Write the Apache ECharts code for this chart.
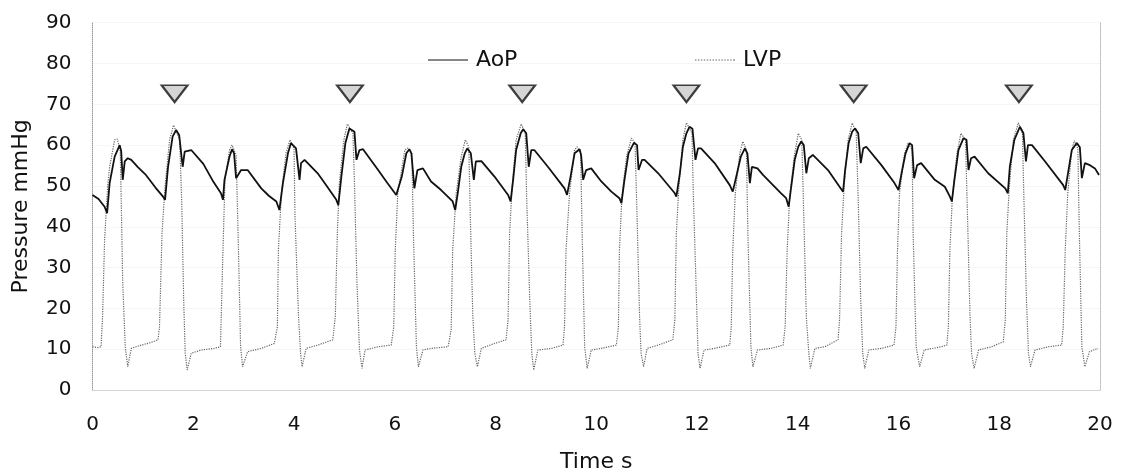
<!DOCTYPE html>
<html>
<head>
<meta charset="utf-8">
<title>AoP / LVP</title>
<script src="https://cdn.jsdelivr.net/npm/echarts@6/dist/echarts.min.js"></script>
<style>
  html, body { margin: 0; padding: 0; background: #fff; }
  #chart { width: 1122px; height: 476px; }
</style>
</head>
<body>
<div id="chart"></div>
<script>
// Aortic pressure trace, [time s, pressure mmHg]
const aopTrace = [
  [0,47.8],[0.12,46.8],[0.24,44.9],[0.29,43.3],
  [0.34,50.7],[0.44,57.2],[0.54,60.0],[0.57,58.5],[0.60,51.5],[0.64,56.0],[0.70,56.8],[0.77,56.4],[0.90,54.6],[1.06,52.7],[1.25,49.6],[1.40,47.4],[1.44,46.6],
  [1.50,54.7],[1.59,62.1],[1.66,63.7],[1.72,62.5],[1.79,54.7],[1.83,58.4],[1.96,58.8],[2.20,55.4],[2.40,51.0],[2.55,48.2],[2.59,46.6],
  [2.62,51.5],[2.72,57.2],[2.77,59.0],[2.81,58.0],[2.85,51.9],[2.95,53.9],[3.08,53.9],[3.35,49.4],[3.50,47.6],[3.65,46.2],[3.71,44.1],
  [3.78,50.7],[3.88,58.0],[3.94,60.5],[4.04,59.2],[4.11,51.5],[4.14,55.6],[4.21,56.4],[4.47,53.1],[4.65,50.0],[4.84,46.6],[4.88,45.3],
  [4.94,52.3],[5.02,60.5],[5.10,64.1],[5.20,63.3],[5.24,56.4],[5.30,58.8],[5.37,59.0],[5.67,53.9],[5.85,50.8],[6.03,47.8],[6.06,47.4],
  [6.14,52.3],[6.23,58.0],[6.29,59.0],[6.33,58.0],[6.39,49.4],[6.45,53.9],[6.56,54.3],[6.72,51.1],[6.92,49.0],[7.15,46.2],[7.20,44.1],
  [7.25,48.2],[7.32,54.7],[7.39,58.0],[7.44,59.2],[7.51,58.0],[7.57,51.5],[7.61,56.0],[7.72,56.1],[7.98,52.3],[8.25,47.8],[8.30,46.2],
  [8.35,51.5],[8.41,58.8],[8.50,62.9],[8.55,63.9],[8.61,62.9],[8.66,54.7],[8.71,58.8],[8.77,58.8],[9.04,54.7],[9.37,49.4],[9.42,47.8],
  [9.49,52.3],[9.57,58.0],[9.67,59.0],[9.70,57.5],[9.74,51.5],[9.80,53.9],[9.90,54.3],[10.10,51.1],[10.30,48.6],[10.46,47.0],[10.50,45.8],
  [10.56,51.5],[10.64,58.0],[10.75,60.6],[10.81,60.0],[10.84,53.9],[10.91,56.4],[10.96,56.4],[11.23,53.1],[11.56,48.2],[11.59,47.4],
  [11.66,53.1],[11.72,59.6],[11.79,62.9],[11.85,64.5],[11.91,64.0],[11.97,56.4],[12.02,59.2],[12.08,59.2],[12.35,55.6],[12.65,50.2],[12.71,48.6],
  [12.78,52.3],[12.87,57.2],[12.95,59.2],[13.00,58.0],[13.05,50.7],[13.09,54.7],[13.20,54.3],[13.31,52.7],[13.47,50.7],[13.67,48.2],[13.77,47.0],[13.82,44.9],
  [13.87,49.8],[13.94,56.4],[14.01,59.6],[14.07,60.9],[14.12,60.0],[14.17,53.1],[14.22,56.8],[14.30,57.6],[14.60,53.9],[14.83,49.8],[14.90,48.6],
  [14.94,53.9],[15.01,60.5],[15.08,63.3],[15.14,64.1],[15.20,62.9],[15.25,55.6],[15.30,59.2],[15.36,59.6],[15.66,55.1],[15.92,50.7],[16.00,49.0],
  [16.06,53.1],[16.14,58.0],[16.22,60.5],[16.27,60.0],[16.31,51.9],[16.37,55.1],[16.45,55.6],[16.72,51.5],[16.92,49.8],[17.02,47.4],[17.06,46.2],
  [17.11,51.5],[17.19,58.8],[17.29,61.7],[17.35,61.3],[17.39,53.9],[17.44,56.8],[17.51,57.2],[17.78,53.1],[18.12,49.4],[18.17,48.2],
  [18.21,54.7],[18.30,61.3],[18.41,64.5],[18.48,62.9],[18.53,56.0],[18.57,60.0],[18.65,60.0],[18.91,56.0],[19.27,50.2],[19.31,49.0],
  [19.37,53.5],[19.44,58.8],[19.54,60.5],[19.60,59.5],[19.64,51.9],[19.70,55.6],[19.80,55.1],[19.90,54.3],[19.98,52.7]
];

// Left ventricular pressure trace, [time s, pressure mmHg]
const lvpTrace = [
  [0,10.6],[0.10,10.4],[0.17,10.6],[0.20,18.0],[0.24,36.8],[0.30,49.8],[0.34,54.7],[0.44,61.3],[0.49,61.5],[0.55,58.8],[0.57,46.6],[0.60,26.2],[0.65,10.6],[0.70,5.7],[0.77,10.2],[0.97,11.0],[1.15,11.6],[1.30,12.3],
  [1.33,15.5],[1.38,38.4],[1.44,49.8],[1.53,61.3],[1.61,64.9],[1.73,61.3],[1.77,46.6],[1.81,22.1],[1.84,9.0],[1.88,4.9],[1.96,9.0],[2.16,9.8],[2.42,10.2],[2.54,10.6],
  [2.55,15.5],[2.59,34.3],[2.63,51.5],[2.72,58.8],[2.77,60.0],[2.85,57.6],[2.89,38.4],[2.94,10.6],[2.98,5.7],[3.08,9.4],[3.35,10.2],[3.61,11.4],
  [3.67,15.5],[3.69,34.3],[3.75,48.2],[3.84,58.0],[3.92,61.3],[4.00,59.2],[4.02,42.5],[4.09,18.0],[4.13,9.0],[4.16,5.7],[4.24,10.2],[4.47,11.0],[4.77,12.3],
  [4.82,18.0],[4.86,38.4],[4.90,50.7],[4.99,61.3],[5.06,65.2],[5.17,62.9],[5.20,50.7],[5.25,26.1],[5.30,9.8],[5.35,5.3],[5.41,9.8],[5.67,10.6],[5.93,11.0],
  [5.98,15.5],[6.01,34.3],[6.06,48.2],[6.20,58.8],[6.26,59.3],[6.34,58.0],[6.37,38.4],[6.43,10.6],[6.47,5.7],[6.56,9.8],[6.72,10.2],[7.06,10.6],
  [7.12,14.7],[7.15,34.3],[7.22,48.2],[7.32,57.2],[7.40,61.3],[7.47,59.6],[7.50,42.5],[7.55,18.0],[7.59,9.0],[7.64,5.7],[7.72,10.2],[7.98,11.4],[8.21,12.3],
  [8.25,17.2],[8.28,38.4],[8.33,49.8],[8.41,61.3],[8.51,65.2],[8.59,62.9],[8.62,46.6],[8.68,22.1],[8.72,9.0],[8.76,4.9],[8.84,9.8],[9.11,10.2],[9.34,11.0],
  [9.37,15.5],[9.40,34.3],[9.47,48.2],[9.57,58.8],[9.62,59.6],[9.69,58.0],[9.72,38.4],[9.77,10.6],[9.82,5.3],[9.90,9.8],[10.10,10.2],[10.40,11.0],
  [10.44,15.5],[10.46,34.3],[10.51,47.4],[10.60,57.2],[10.70,61.7],[10.77,60.5],[10.81,42.5],[10.86,18.0],[10.89,9.0],[10.94,5.7],[11.01,10.2],[11.23,11.0],[11.52,12.3],
  [11.56,17.2],[11.59,38.4],[11.64,49.8],[11.72,61.3],[11.79,65.5],[11.90,62.9],[11.93,46.6],[11.99,22.1],[12.02,9.0],[12.06,5.3],[12.14,9.8],[12.35,10.2],[12.65,11.0],
  [12.68,15.5],[12.71,34.3],[12.76,48.2],[12.85,58.0],[12.91,60.9],[12.98,58.8],[13.01,38.4],[13.07,10.6],[13.11,5.7],[13.20,9.8],[13.47,10.2],[13.71,11.0],
  [13.75,15.5],[13.79,34.3],[13.84,47.4],[13.93,57.2],[14.01,62.9],[14.08,61.3],[14.12,42.5],[14.17,18.0],[14.22,9.0],[14.25,5.3],[14.34,10.2],[14.54,10.6],[14.80,12.3],
  [14.83,17.2],[14.87,38.4],[14.92,49.8],[15.00,61.3],[15.08,65.4],[15.16,63.3],[15.20,46.6],[15.25,22.1],[15.29,9.0],[15.33,5.3],[15.41,9.8],[15.66,10.2],[15.91,11.0],
  [15.95,15.5],[15.98,34.3],[16.02,48.2],[16.12,58.0],[16.19,60.5],[16.27,58.8],[16.29,38.4],[16.35,10.6],[16.42,5.7],[16.51,9.8],[16.85,10.6],[16.96,11.0],
  [16.99,15.5],[17.02,34.3],[17.07,47.4],[17.16,58.0],[17.24,62.9],[17.33,61.3],[17.37,42.5],[17.42,18.0],[17.45,9.0],[17.50,5.3],[17.59,9.8],[17.85,10.6],[18.08,11.8],
  [18.12,17.2],[18.15,38.4],[18.20,49.8],[18.28,61.3],[18.38,65.5],[18.46,62.9],[18.49,46.6],[18.54,22.1],[18.58,9.0],[18.62,5.7],[18.71,9.8],[18.98,10.6],[19.24,11.0],
  [19.27,15.5],[19.31,34.3],[19.36,48.2],[19.44,58.8],[19.49,61.1],[19.56,59.2],[19.59,38.4],[19.64,10.6],[19.70,5.7],[19.79,9.4],[19.96,10.2]
];

// Beats flagged with a downward triangle: time s, and the level they sit at (mmHg)
const markerTimes = [1.63, 5.11, 8.53, 11.79, 15.11, 18.39];
const markerLevel = 72.6;

// Axis ranges and ticks
const xRange = { min: 0, max: 20, step: 2 };
const yRange = { min: 0, max: 90, step: 10 };

const FONT = 'DejaVu Sans';
const AOP_COLOR = '#111111';
const LVP_COLOR = '#666666';

// Legend keys: a solid bar for AoP, a row of short dashes for LVP
const solidKey = 'path://M0,0H40V1H0Z';
let dottedKey = 'path://';
for (let i = 0; i < 14; i++) {
  const x0 = i * 3;
  dottedKey += 'M' + x0 + ',0H' + (x0 + 1.5) + 'V1H' + x0 + 'Z';
}
dottedKey += 'M40.5,0H41V1H40.5Z';

const chart = echarts.init(document.getElementById('chart'), null, { renderer: 'canvas' });

chart.setOption({
  animation: false,
  backgroundColor: '#ffffff',
  textStyle: { fontFamily: FONT, color: '#111' },
  grid: {
    left: 92.5, right: 22, top: 22.7, bottom: 86,
    containLabel: false, outerBoundsMode: 'none'
  },
  legend: [
    {
      data: [{ name: 'AoP', icon: solidKey, itemStyle: { color: AOP_COLOR } }],
      left: 423, top: 44, itemWidth: 40, itemHeight: 2,
      textStyle: { fontFamily: FONT, fontSize: 22, color: '#111', padding: [0, 0, 0, 3] }
    },
    {
      data: [{ name: 'LVP', icon: dottedKey, itemStyle: { color: LVP_COLOR } }],
      left: 690, top: 44, itemWidth: 40, itemHeight: 2,
      textStyle: { fontFamily: FONT, fontSize: 22, color: '#111', padding: [0, 0, 0, 3] }
    }
  ],
  xAxis: {
    type: 'value', min: xRange.min, max: xRange.max, interval: xRange.step,
    name: 'Time s', nameLocation: 'middle', nameGap: 61,
    nameTextStyle: { fontFamily: FONT, fontSize: 22, color: '#111' },
    axisLine: { show: true, lineStyle: { color: '#d0d0d0', type: 'dotted' } },
    axisTick: { show: false },
    axisLabel: { fontFamily: FONT, fontSize: 20, color: '#111', margin: 25 },
    splitLine: { show: false }
  },
  yAxis: [
    {
      type: 'value', min: yRange.min, max: yRange.max, interval: yRange.step,
      name: 'Pressure mmHg', nameLocation: 'middle', nameGap: 60, nameRotate: 90,
      nameTextStyle: { fontFamily: FONT, fontSize: 22, color: '#111' },
      axisLine: { show: true, lineStyle: { color: '#9a9a9a', type: 'dotted' } },
      axisTick: { show: false },
      axisLabel: { fontFamily: FONT, fontSize: 20, color: '#111', margin: 21 },
      splitLine: { show: true, lineStyle: { color: '#ececec', type: 'dotted' } }
    },
    {
      type: 'value', position: 'right', min: yRange.min, max: yRange.max, interval: yRange.step,
      axisLine: { show: true, lineStyle: { color: '#b8b8b8', type: 'dotted' } },
      axisTick: { show: false }, axisLabel: { show: false }, splitLine: { show: false }
    }
  ],
  series: [
    {
      name: 'LVP', type: 'line', data: lvpTrace, showSymbol: false, symbol: 'none',
      lineStyle: { color: LVP_COLOR, width: 1.2, type: 'dotted' },
      itemStyle: { color: LVP_COLOR }, z: 2
    },
    {
      name: 'AoP', type: 'line', data: aopTrace, showSymbol: false, symbol: 'none',
      lineStyle: { color: AOP_COLOR, width: 1.8 },
      itemStyle: { color: AOP_COLOR }, z: 3
    },
    {
      name: 'beat marker', type: 'scatter', z: 4,
      data: markerTimes.map(t => [t, markerLevel]),
      symbol: 'triangle', symbolRotate: 180, symbolSize: [26, 17],
      itemStyle: { color: '#cbcbcb', borderColor: '#111', borderWidth: 2 }
    }
  ]
});
</script>
</body>
</html>
